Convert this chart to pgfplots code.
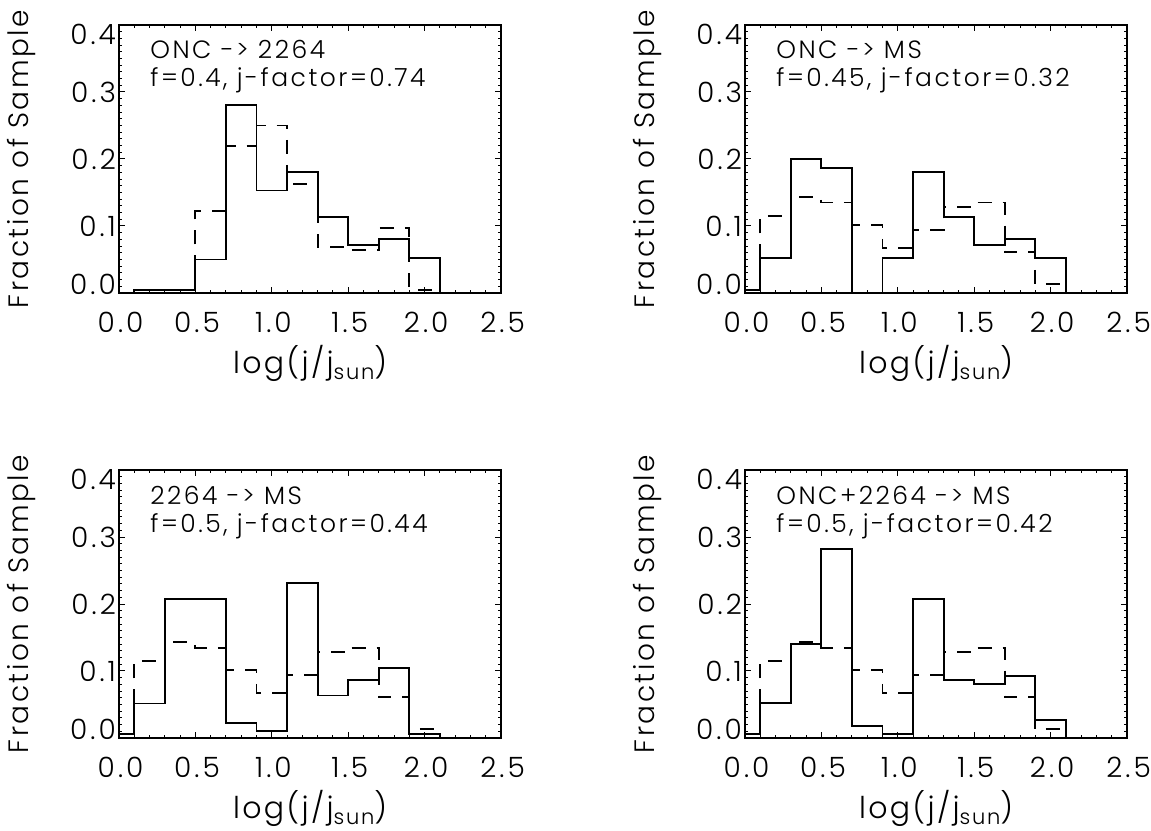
\documentclass[border=0pt]{standalone}
\usepackage{fontspec}
\setmainfont{Poppins}[UprightFont={* Light}]
\usepackage{pgfplots}
\pgfplotsset{compat=1.18}
\newcommand{\tl}{\fontsize{14}{16}\selectfont\addfontfeatures{LetterSpace=11}}
\newcommand{\dn}[1]{\raisebox{-4.5pt}[\height][\depth]{#1}}
\newcommand{\up}[1]{\raisebox{4.5pt}[\height][\depth]{#1}}
\pgfplotsset{
  hist/.style={
    width=191pt, height=134pt, scale only axis,
    anchor=south west,
    xmin=0, xmax=2.5, ymin=0, ymax=0.4,
    xtick={0,0.5,1,1.5,2,2.5},
    ytick={0,0.1,0.2,0.3,0.4},
    xticklabels={0.0,0.5,1.0,1.5,2.0,2.5},
    yticklabels={\up{0.0},0.1,0.2,0.3,\dn{0.4}},
    minor x tick num=4, minor y tick num=9,
    major tick length=3.2pt, minor tick length=1.7pt,
    tick align=inside,
    axis line style={line width=0.8pt},
    every tick/.style={black, line width=0.5pt},
    ticklabel style={font=\tl},
    xticklabel style={yshift=-6pt, xshift=0.8pt},
    yticklabel style={xshift=2pt},
    xlabel={log(j/j\raisebox{-0.35ex}{\fontsize{10.5}{11}\selectfont\addfontfeatures{LetterSpace=8}sun})},
    ylabel={Fraction of Sample},
    xlabel style={at={(axis description cs:0.5,-0.302)}, anchor=base, font=\fontsize{15}{17}\selectfont\addfontfeatures{LetterSpace=8}},
    ylabel style={at={(axis description cs:-0.254,0.5)}, anchor=center, font=\fontsize{14}{16}\selectfont\addfontfeatures{LetterSpace=9}},
    clip=false,
  },
  sol/.style={const plot mark mid, black, solid, line width=0.95pt, mark=none},
  dsh/.style={const plot mark mid, black, line width=0.95pt, mark=none, dash pattern=on 7pt off 5.5pt},
}
\newcommand{\ann}[2]{%
  \node[anchor=base west, inner sep=0pt, xshift=15.5pt, yshift=-17pt, font=\fontsize{12.5}{14}\selectfont\addfontfeatures{LetterSpace=10}] at (rel axis cs:0,1) {#1};
  \node[anchor=base west, inner sep=0pt, xshift=15.5pt, yshift=-31pt, font=\fontsize{12.5}{14}\selectfont\addfontfeatures{LetterSpace=10}] at (rel axis cs:0,1) {#2};
}
\begin{document}
\begin{tikzpicture}
\path[use as bounding box] (0,0) rectangle (575.5pt,415pt);
% top left
\begin{axis}[hist, at={(59.5pt,268.5pt)}]
\addplot[sol] coordinates {(0,0)(0.2,0.005)(0.4,0.005)(0.6,0.05)(0.8,0.28)(1.0,0.153)(1.2,0.18)(1.4,0.113)(1.6,0.072)(1.8,0.08)(2.0,0.052)(2.2,0)};
\addplot[dsh] coordinates {(0,0)(0.2,0.004)(0.4,0.004)(0.6,0.122)(0.8,0.22)(1.0,0.25)(1.2,0.163)(1.4,0.069)(1.6,0.064)(1.8,0.097)(2.0,0.005)(2.2,0)};
\ann{ONC -> 2264}{f=0.4, j-factor=0.74}
\end{axis}
% top right
\begin{axis}[hist, at={(372.5pt,268.5pt)}]
\addplot[sol] coordinates {(0,0.005)(0.2,0.052)(0.4,0.2)(0.6,0.186)(0.8,0)(1.0,0.052)(1.2,0.18)(1.4,0.113)(1.6,0.072)(1.8,0.08)(2.0,0.052)(2.2,0)};
\addplot[dsh] coordinates {(0,0)(0.2,0.115)(0.4,0.143)(0.6,0.135)(0.8,0.101)(1.0,0.067)(1.2,0.094)(1.4,0.128)(1.6,0.135)(1.8,0.061)(2.0,0.013)(2.2,0)};
\ann{ONC -> MS}{f=0.45, j-factor=0.32}
\end{axis}
% bottom left
\begin{axis}[hist, at={(59.5pt,46pt)}]
\addplot[sol] coordinates {(0,0.006)(0.2,0.0515)(0.4,0.2075)(0.6,0.2075)(0.8,0.0225)(1.0,0.011)(1.2,0.2315)(1.4,0.0635)(1.6,0.086)(1.8,0.104)(2.0,0.006)(2.2,0)};
\addplot[dsh] coordinates {(0,0)(0.2,0.115)(0.4,0.143)(0.6,0.135)(0.8,0.101)(1.0,0.067)(1.2,0.094)(1.4,0.128)(1.6,0.135)(1.8,0.061)(2.0,0.013)(2.2,0)};
\ann{2264 -> MS}{f=0.5, j-factor=0.44}
\end{axis}
% bottom right
\begin{axis}[hist, at={(372.5pt,46pt)}]
\addplot[sol] coordinates {(0,0.006)(0.2,0.0525)(0.4,0.14)(0.6,0.2815)(0.8,0.0185)(1.0,0.006)(1.2,0.2075)(1.4,0.086)(1.6,0.08)(1.8,0.0925)(2.0,0.0275)(2.2,0)};
\addplot[dsh] coordinates {(0,0)(0.2,0.115)(0.4,0.143)(0.6,0.135)(0.8,0.101)(1.0,0.067)(1.2,0.094)(1.4,0.128)(1.6,0.135)(1.8,0.061)(2.0,0.013)(2.2,0)};
\ann{ONC+2264 -> MS}{f=0.5, j-factor=0.42}
\end{axis}
\end{tikzpicture}
\end{document}
